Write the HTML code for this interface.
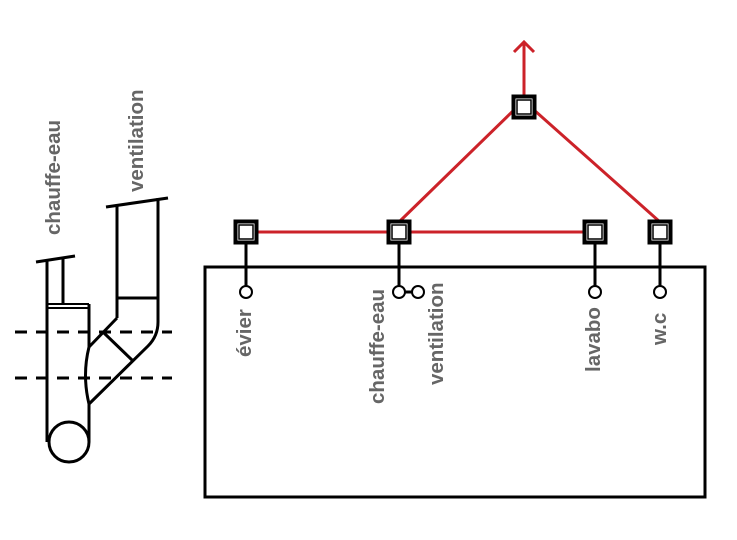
<!DOCTYPE html>
<html><head><meta charset="utf-8"><style>
html,body{margin:0;padding:0;background:#fff;width:737px;height:540px;overflow:hidden}
text{font-family:"Liberation Sans",sans-serif;font-weight:bold;font-size:20.5px;fill:#666}
</style></head><body>
<svg width="737" height="540" viewBox="0 0 737 540" xmlns="http://www.w3.org/2000/svg">
<defs>
<g id="sq">
<rect x="-12.5" y="-12.5" width="25" height="25" fill="#000"/>
<rect x="-8.5" y="-8.5" width="17" height="17" fill="#fff"/>
<rect x="-7" y="-7" width="14" height="14" fill="#fff" stroke="#000" stroke-width="1.5"/>
</g>
</defs>
<g stroke="#cc2229" stroke-width="3" fill="none">
<line x1="524" y1="97" x2="524" y2="42"/>
<polyline points="514,52 524,42 534,52"/>
<line x1="514" y1="110" x2="399" y2="222"/>
<line x1="534" y1="110" x2="660" y2="222"/>
<line x1="246" y1="232" x2="595" y2="232"/>
</g>
<rect x="205" y="267" width="500" height="230" fill="none" stroke="#000" stroke-width="3"/>
<g stroke="#000" stroke-width="3" fill="#fff">
<line x1="246" y1="232" x2="246" y2="286"/>
<line x1="399" y1="232" x2="399" y2="286"/>
<line x1="595" y1="232" x2="595" y2="286"/>
<line x1="660" y1="232" x2="660" y2="286"/>
<line x1="405" y1="292" x2="412" y2="292"/>
<circle cx="246" cy="292" r="6" stroke-width="2"/>
<circle cx="399" cy="292" r="6" stroke-width="2"/>
<circle cx="418" cy="292" r="6" stroke-width="2"/>
<circle cx="595" cy="292" r="6" stroke-width="2"/>
<circle cx="660" cy="292" r="6" stroke-width="2"/>
</g>
<use href="#sq" x="246" y="232"/>
<use href="#sq" x="399" y="232"/>
<use href="#sq" x="595" y="232"/>
<use href="#sq" x="660" y="232"/>
<use href="#sq" x="524" y="107"/>
<text transform="translate(251,357) rotate(-90)">évier</text>
<text transform="translate(384,404) rotate(-90)">chauffe-eau</text>
<text transform="translate(443,385) rotate(-90)">ventilation</text>
<text transform="translate(600,372) rotate(-90)">lavabo</text>
<text transform="translate(666,345) rotate(-90)">w.c</text>
<text transform="translate(60,235) rotate(-90)">chauffe-eau</text>
<text transform="translate(143,192) rotate(-90)">ventilation</text>
<g stroke="#000" stroke-width="3" fill="none">
<line x1="15" y1="332" x2="172" y2="332" stroke-dasharray="12,9"/>
<line x1="15" y1="378" x2="172" y2="378" stroke-dasharray="12,9"/>
<line x1="47" y1="260" x2="47" y2="442"/>
<line x1="89" y1="304" x2="89" y2="347"/>
<path d="M89,347 Q82,375 89,404"/>
<line x1="89" y1="404" x2="89" y2="442"/>
<line x1="63" y1="258" x2="63" y2="304"/>
<line x1="47" y1="304" x2="89" y2="304" stroke-width="2"/>
<line x1="47" y1="308" x2="89" y2="308" stroke-width="2"/>
<line x1="36" y1="262" x2="75" y2="256"/>
<circle cx="69" cy="442" r="20" fill="#fff"/>
<line x1="117" y1="205" x2="117" y2="318"/>
<line x1="158" y1="198" x2="158" y2="322"/>
<line x1="106" y1="207" x2="168" y2="198"/>
<line x1="117" y1="298" x2="158" y2="298"/>
<line x1="117" y1="318" x2="89" y2="347"/>
<path d="M158,322 Q158,336 148,346 L89,404"/>
<line x1="104" y1="333" x2="132" y2="360"/>
</g>
</svg>
</body></html>
